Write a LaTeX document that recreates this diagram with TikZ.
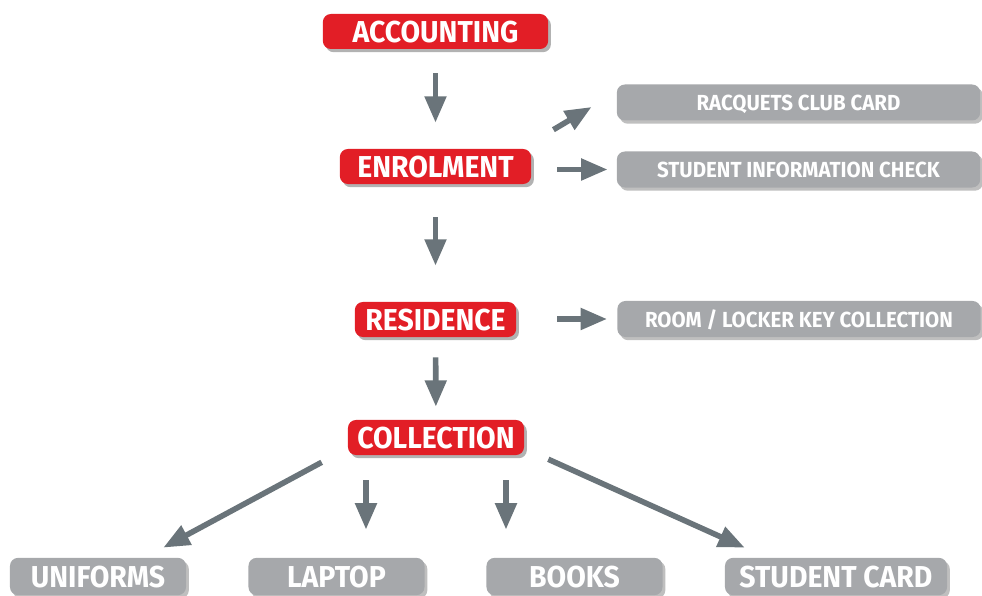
\documentclass[tikz,border=0pt]{standalone}
\usepackage{fontspec}
\newfontfamily\boxfont[FakeStretch=0.94]{Fira Sans}
\usetikzlibrary{arrows.meta,calc,shadows}
\definecolor{stepred}{HTML}{E21E26}
\definecolor{itemgray}{HTML}{A6A8AB}
\definecolor{arrgray}{HTML}{6A747A}
\tikzset{
  mainbox/.style={fill=stepred, text=white, rounded corners=0.2cm, inner sep=0pt,
    minimum height=0.875cm, text depth=0pt,
    font=\boxfont\bfseries\fontsize{21.5}{25}\selectfont,
    drop shadow={shadow xshift=0.07cm, shadow yshift=-0.08cm, opacity=0.3, fill=black}},
  sidebox/.style={fill=itemgray, text=white, rounded corners=0.2cm, inner sep=0pt,
    minimum width=9.08cm, minimum height=0.9cm, text depth=0pt,
    font=\boxfont\bfseries\fontsize{15.5}{18}\selectfont,
    drop shadow={shadow xshift=0.07cm, shadow yshift=-0.08cm, opacity=0.25, fill=black}},
  itembox/.style={sidebox, minimum width=4.4cm, minimum height=0.93cm,
    font=\boxfont\bfseries\fontsize{21.5}{25}\selectfont},
  arr/.style={draw=arrgray, line width=0.14cm,
    -{Triangle[width=0.52cm,length=0.66cm]}}
}
\begin{document}
\begin{tikzpicture}[x=0.025cm, y=-0.025cm, line join=round]
\useasboundingbox (0,0) rectangle (982,596);
% main steps
\node[mainbox, minimum width=5.63cm] (acc) at (435.5,31.5) {ACCOUNTING};
\node[mainbox, minimum width=4.78cm] (enr) at (435.5,166.5) {ENROLMENT};
\node[mainbox, minimum width=4.03cm] (res) at (435.5,319.5) {RESIDENCE};
\node[mainbox, minimum width=4.4cm] (col) at (436,437.5) {COLLECTION};
% side items
\node[sidebox] (racq) at (798.5,102.5) {RACQUETS CLUB CARD};
\node[sidebox] (info) at (798.5,169.5) {STUDENT INFORMATION CHECK};
\node[sidebox] (room) at (799,319) {ROOM / LOCKER KEY COLLECTION};
% collected items
\node[itembox] (uni) at (98,576.5) {UNIFORMS};
\node[itembox] (lap) at (336.5,576.5) {LAPTOP};
\node[itembox] (book) at (574.5,576.5) {BOOKS};
\node[itembox, minimum width=5.55cm] (card) at (836,576.5) {STUDENT CARD};
% arrows
\draw[arr, shorten <=0.6cm, shorten >=0.65cm] (acc) -- (enr);
\draw[arr, shorten <=0.825cm, shorten >=0.9cm] (enr) -- (res);
\draw[arr, shorten <=0.5cm, shorten >=0.325cm] (res) -- (col);
\draw[arr, shorten <=0.65cm, shorten >=0.225cm] (enr.east |- info) -- (info.west);
\draw[arr, shorten <=1.025cm, shorten >=0.25cm] (res.east |- room) -- (room.west);
\draw[arr] ($(enr.north east)+(22,-19)$) -- ($(racq.west)+(-25,4.5)$);
\draw[arr] ($(col.south west)+(-26,7)$) -- ($(uni.north east)+(-23,-10)$);
\draw[arr] ($(col.south east)+(24,4)$) -- ($(card.north west)+(20,-10)$);
\foreach \n/\dx in {lap/-70, book/70}{
  \coordinate (\n in) at ($(col.south)+(\dx,25)$);
  \draw[arr, shorten >=0.7cm] (\n in) -- (\n in |- \n.north);
}
\end{tikzpicture}
\end{document}
